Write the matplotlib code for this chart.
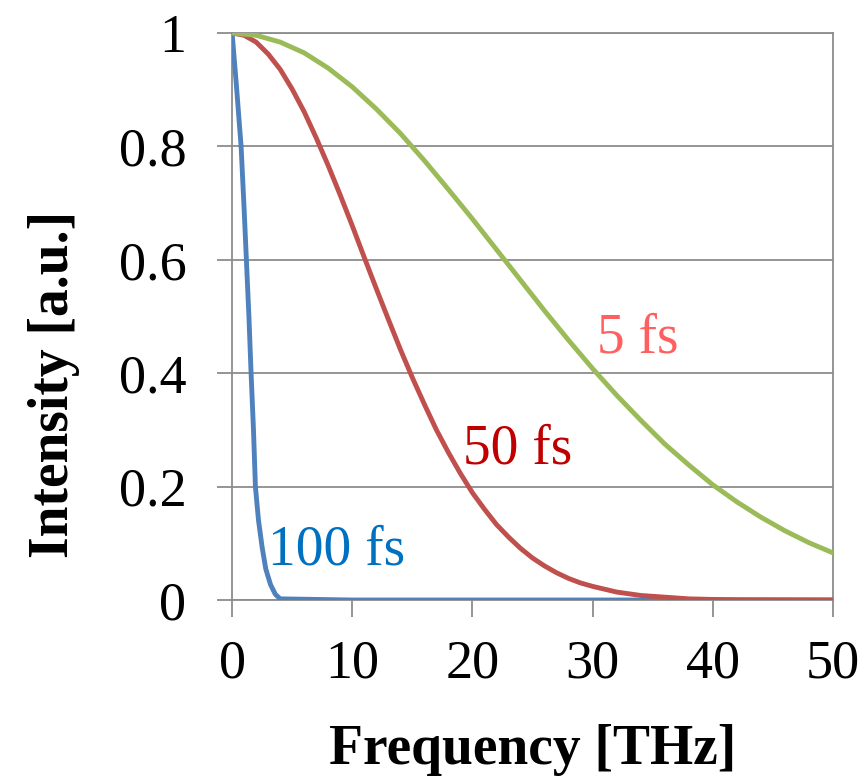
"""Spectral intensity of pulses with different durations"""
import matplotlib
matplotlib.use("Agg")
import matplotlib.pyplot as plt

plt.rcParams['font.family'] = ['Liberation Serif', 'DejaVu Serif']

# values
FREQ_5FS = [0, 2, 4, 6, 8, 10, 12, 14, 16, 18, 20, 22, 24, 26, 28, 30,
            32, 34, 36, 38, 40, 42, 44, 46, 48, 50]
INT_5FS = [1, 0.996, 0.984, 0.965, 0.938, 0.905, 0.866, 0.823, 0.775,
           0.724, 0.672, 0.618, 0.564, 0.510, 0.458, 0.408, 0.361, 0.317,
           0.275, 0.238, 0.203, 0.173, 0.146, 0.122, 0.101, 0.083]

FREQ_50FS = [0, 1, 2, 3, 4, 5, 6, 7, 8, 9, 10, 11, 12, 13, 14, 15, 16, 17,
             18, 19, 20, 21, 22, 23, 24, 25, 26, 27, 28, 29, 30,
             32, 34, 36, 38, 40, 42, 50]
INT_50FS = [1, 0.996, 0.984, 0.963, 0.936, 0.901, 0.861, 0.815, 0.766,
            0.714, 0.660, 0.604, 0.549, 0.495, 0.442, 0.392, 0.345, 0.300,
            0.260, 0.223, 0.189, 0.160, 0.133, 0.111, 0.091, 0.074, 0.060,
            0.048, 0.038, 0.030, 0.024,
            0.014, 0.008, 0.005, 0.002, 0.001, 0.0005, 0]

FREQ_100FS = [0, 0.35, 0.75, 1.0, 1.19, 1.4, 1.58, 1.78, 1.94, 2.2, 2.5,
              2.8, 3.2, 3.6, 4.0, 10, 20, 30, 40, 50]
INT_100FS = [1, 0.91, 0.8, 0.69, 0.6, 0.5, 0.4, 0.3, 0.2, 0.14, 0.093,
             0.055, 0.027, 0.01, 0.002, 0, 0, 0, 0, 0]

X_TICKS = [0, 10, 20, 30, 40, 50]
Y_TICKS = [0, 0.2, 0.4, 0.6, 0.8, 1]
Y_TICK_LABELS = ["0", "0.2", "0.4", "0.6", "0.8", "1"]

GRID_COLOR = "#8c8c8c"


def plot_spectra():
    """Draw the three spectra"""
    fig = plt.figure(figsize=(8.66, 7.77), dpi=100)
    ax = fig.add_axes([0.268, 0.2278, 0.694, 0.7297])

    ax.plot(FREQ_100FS, INT_100FS, color="#4F81BD", linewidth=3.5, zorder=3)
    ax.plot(FREQ_50FS, INT_50FS, color="#C0504D", linewidth=3.5, zorder=3)
    ax.plot(FREQ_5FS, INT_5FS, color="#9BBB59", linewidth=3.5, zorder=3)

    ax.set_xlim(0, 50)
    ax.set_ylim(0, 1)
    ax.set_xticks(X_TICKS)
    ax.set_yticks(Y_TICKS)
    ax.set_yticklabels(Y_TICK_LABELS)
    ax.yaxis.grid(True, color=GRID_COLOR, linewidth=1.3)
    ax.set_axisbelow(True)
    for spine in ax.spines.values():
        spine.set_color(GRID_COLOR)
        spine.set_linewidth(1.3)
    ax.tick_params(axis="x", direction="out", length=12, width=1.3,
                   color=GRID_COLOR, labelsize=39, pad=16)
    ax.tick_params(axis="y", direction="out", length=11, width=1.3,
                   color=GRID_COLOR, labelsize=39, pad=22)

    ax.set_xlabel("Frequency [THz]", fontsize=40, fontweight="bold")
    ax.xaxis.set_label_coords(0.5, -0.218)
    ax.set_ylabel("Intensity [a.u.]", fontsize=40, fontweight="bold")
    ax.yaxis.set_label_coords(-0.253, 0.381)

    ax.text(30.4, 0.437, "5 fs", color="#FF5F5F", fontsize=40,
            ha="left", va="baseline")
    ax.text(19.25, 0.2416, "50 fs", color="#C00000", fontsize=40,
            ha="left", va="baseline")
    ax.text(3.0, 0.063, "100 fs", color="#0070C0", fontsize=40,
            ha="left", va="baseline")

    fig.savefig("out.png", dpi=100)


if __name__ == "__main__":
    plot_spectra()
